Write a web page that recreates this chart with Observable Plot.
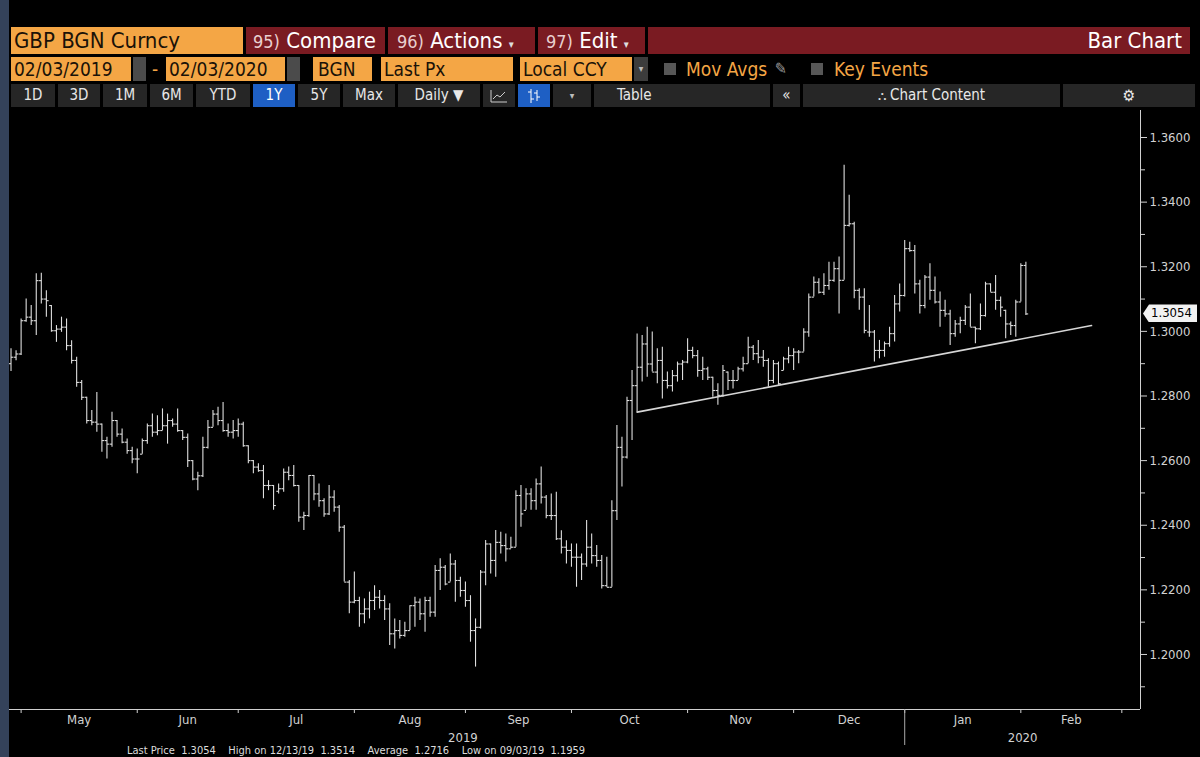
<!DOCTYPE html>
<html>
<head>
<meta charset="utf-8">
<script src="https://cdn.jsdelivr.net/npm/d3@7"></script>
<script src="https://cdn.jsdelivr.net/npm/@observablehq/plot@0.6"></script>
<style>
  html, body { margin: 0; padding: 0; background: #000; }
  body { width: 1200px; height: 757px; overflow: hidden; position: relative;
         font-family: "DejaVu Sans Condensed", "DejaVu Sans", sans-serif; }
  .a { position: absolute; box-sizing: border-box; white-space: pre; }
  .o { background: #F4A645; color: #1a1208; }
  .r { background: #7A1B22; color: #fff; }
  .r1 { top: 27px; height: 27px; line-height: 27px; font-size: 22px; }
  .r2 { top: 57px; height: 24px; line-height: 24px; font-size: 19px; }
  .r3 { top: 84px; height: 23px; line-height: 23px; font-size: 15px; background: #262626; color: #e8e8e8; text-align: center; }
  .n { font-size: 18px; color: #e9cfcf; }
  .ic { background: #4b4b4b; }
  .blue { background: #1e5fc4; color: #fff; }
  .ot { color: #F4A645; }
  .cb { background: #575757; width: 12px; height: 12px; top: 63px; }
  #chart { position: absolute; left: 0; top: 110px; }
  #last { position: absolute; left: 1143px; width: 54px; height: 18px; line-height: 18px;
          background: #f2f2f2; color: #000; font-size: 13px; padding-left: 8px; box-sizing: border-box;
          clip-path: polygon(6px 0, 100% 0, 100% 100%, 6px 100%, 0 50%); }
</style>
</head>
<body>

<!-- row 1 -->
<div class="a o r1" style="left:11px;width:232px;padding-left:3px;">GBP BGN Curncy</div>
<div class="a r r1" style="left:246px;width:139px;padding-left:7px;"><span class="n">95)</span> Compare</div>
<div class="a r r1" style="left:388px;width:147px;padding-left:9px;"><span class="n">96)</span> Actions <span style="font-size:11px;color:#ddd">▾</span></div>
<div class="a r r1" style="left:538px;width:107px;padding-left:8px;"><span class="n">97)</span> Edit <span style="font-size:11px;color:#ddd">▾</span></div>
<div class="a r r1" style="left:648px;width:542px;text-align:right;padding-right:8px;">Bar Chart</div>

<!-- row 2 -->
<div class="a o r2" style="left:11px;width:120px;padding-left:3px;">02/03/2019</div>
<div class="a ic r2" style="left:133px;width:13px;"></div>
<div class="a r2 ot" style="left:152px;">-</div>
<div class="a o r2" style="left:166px;width:119px;padding-left:3px;">02/03/2020</div>
<div class="a ic r2" style="left:287px;width:13px;"></div>
<div class="a o r2" style="left:313px;width:59px;padding-left:5px;">BGN</div>
<div class="a o r2" style="left:381px;width:132px;padding-left:3px;">Last Px</div>
<div class="a o r2" style="left:520px;width:112px;padding-left:3px;">Local CCY</div>
<div class="a r2" style="left:634px;width:14px;background:#3c3c3c;color:#bbb;font-size:10px;text-align:center;">▾</div>
<div class="a cb" style="left:664px;"></div>
<div class="a r2 ot" style="left:686px;">Mov Avgs</div>
<div class="a r2" style="left:775px;color:#999;font-size:16px;">✎</div>
<div class="a cb" style="left:811px;"></div>
<div class="a r2 ot" style="left:834px;">Key Events</div>

<!-- row 3 -->
<div class="a r3" style="left:11px;width:44px;">1D</div>
<div class="a r3" style="left:58px;width:42px;">3D</div>
<div class="a r3" style="left:103px;width:44px;">1M</div>
<div class="a r3" style="left:150px;width:43px;">6M</div>
<div class="a r3" style="left:196px;width:54px;">YTD</div>
<div class="a r3 blue" style="left:253px;width:42px;">1Y</div>
<div class="a r3" style="left:298px;width:42px;">5Y</div>
<div class="a r3" style="left:343px;width:52px;">Max</div>
<div class="a r3" style="left:398px;width:82px;">Daily ▼</div>
<div class="a r3" style="left:483px;width:32px;"><svg width="18" height="14" style="vertical-align:middle"><polyline points="1,1 1,13 17,13" fill="none" stroke="#ccc"/><polyline points="3,10 7,6 10,8 15,3" fill="none" stroke="#ccc"/></svg></div>
<div class="a r3 blue" style="left:518px;width:32px;"><svg width="14" height="16" style="vertical-align:middle"><path d="M4 1V15M1 4H4M4 11H7M10 2V13M7 5H10M10 9H13" stroke="#fff" fill="none"/></svg></div>
<div class="a r3" style="left:553px;width:38px;font-size:10px;color:#bbb;">▾</div>
<div class="a r3" style="left:594px;width:176px;text-align:left;padding-left:23px;">Table</div>
<div class="a r3" style="left:773px;width:27px;">«</div>
<div class="a r3" style="left:803px;width:257px;"><span style="font-size:12px;color:#ddd">⛬</span> Chart Content</div>
<div class="a r3" style="left:1063px;width:132px;font-size:16px;">⚙</div>

<div id="chart"></div>
<div id="last"></div>
<div class="a" style="left:0;top:0;width:9px;height:757px;background:#34425a;z-index:5;"></div>
<div class="a" style="left:127px;top:745px;height:12px;line-height:12px;color:#dcdcdc;font-size:11px;">Last Price  1.3054    High on 12/13/19  1.3514    Average  1.2716    Low on 09/03/19  1.1959</div>

<script>
// ---- Data: GBP BGN Curncy daily OHLC (trading days from 26 Apr 2019 to 3 Feb 2020) ----
const open = [
1.2900,1.2920,1.2930,1.3033,1.3044,1.3033,1.3157,1.3100,1.3080,1.3002,
1.3007,1.3013,1.2956,1.2910,1.2842,1.2796,1.2724,1.2719,1.2713,1.2662,
1.2651,1.2724,1.2682,1.2657,1.2631,1.2605,1.2620,1.2662,1.2708,1.2688,
1.2693,1.2708,1.2724,1.2713,1.2693,1.2672,1.2600,1.2543,1.2553,1.2641,
1.2703,1.2744,1.2724,1.2693,1.2688,1.2693,1.2713,1.2646,1.2600,1.2580,
1.2569,1.2523,1.2523,1.2505,1.2513,1.2564,1.2554,1.2523,1.2425,1.2430,
1.2554,1.2497,1.2476,1.2435,1.2487,1.2456,1.2394,1.2224,1.2162,1.2167,
1.2126,1.2141,1.2167,1.2177,1.2167,1.2141,1.2064,1.2074,1.2059,1.2074,
1.2151,1.2162,1.2126,1.2167,1.2131,1.2260,1.2270,1.2224,1.2280,1.2229,
1.2198,1.2167,1.2074,1.2084,1.2255,1.2342,1.2291,1.2347,1.2337,1.2327,
1.2332,1.2492,1.2446,1.2497,1.2476,1.2528,1.2487,1.2430,1.2430,1.2358,
1.2332,1.2322,1.2301,1.2301,1.2280,1.2332,1.2306,1.2291,1.2213,1.2208,
1.2445,1.2641,1.2611,1.2786,1.2832,1.2889,1.2961,1.2899,1.2874,1.2910,
1.2848,1.2832,1.2863,1.2899,1.2905,1.2941,1.2925,1.2879,1.2884,1.2858,
1.2817,1.2802,1.2874,1.2848,1.2848,1.2884,1.2900,1.2951,1.2931,1.2920,
1.2910,1.2848,1.2900,1.2879,1.2915,1.2925,1.2936,1.2936,1.2998,1.3106,
1.3152,1.3121,1.3142,1.3158,1.3194,1.3158,1.3328,1.3333,1.3127,1.3106,
1.2998,1.2998,1.2941,1.2941,1.2962,1.2993,1.3085,1.3111,1.3256,1.3250,
1.3147,1.3080,1.3168,1.3127,1.3091,1.3065,1.3054,1.2993,1.3023,1.3034,
1.3075,1.3013,1.3008,1.3049,1.3147,1.3121,1.3096,1.3065,1.3023,1.3018,
1.3091,1.3204];
const high = [
1.2946,1.2940,1.3038,1.3100,1.3080,1.3178,1.3180,1.3126,1.3080,1.3018,
1.3044,1.3038,1.2971,1.2920,1.2848,1.2796,1.2755,1.2811,1.2713,1.2672,
1.2750,1.2724,1.2698,1.2667,1.2641,1.2636,1.2667,1.2713,1.2744,1.2739,
1.2760,1.2744,1.2729,1.2760,1.2693,1.2682,1.2600,1.2564,1.2672,1.2724,
1.2755,1.2765,1.2780,1.2713,1.2724,1.2729,1.2719,1.2646,1.2600,1.2590,
1.2585,1.2538,1.2523,1.2528,1.2574,1.2580,1.2585,1.2523,1.2440,1.2554,
1.2554,1.2528,1.2482,1.2523,1.2507,1.2461,1.2399,1.2229,1.2255,1.2177,
1.2172,1.2193,1.2213,1.2198,1.2182,1.2157,1.2110,1.2105,1.2100,1.2151,
1.2177,1.2172,1.2177,1.2177,1.2275,1.2296,1.2275,1.2311,1.2291,1.2239,
1.2224,1.2182,1.2110,1.2260,1.2353,1.2342,1.2384,1.2378,1.2373,1.2363,
1.2507,1.2523,1.2513,1.2513,1.2543,1.2580,1.2492,1.2497,1.2502,1.2383,
1.2352,1.2342,1.2342,1.2311,1.2415,1.2373,1.2337,1.2306,1.2301,1.2476,
1.2709,1.2672,1.2796,1.2879,1.2992,1.2987,1.3013,1.2998,1.2946,1.2951,
1.2874,1.2879,1.2905,1.2910,1.2977,1.2951,1.2941,1.2920,1.2889,1.2858,
1.2838,1.2894,1.2874,1.2879,1.2889,1.2920,1.2982,1.2956,1.2972,1.2941,
1.2915,1.2910,1.2905,1.2920,1.2951,1.2946,1.2941,1.3008,1.3116,1.3168,
1.3163,1.3178,1.3214,1.3214,1.3230,1.3514,1.3421,1.3338,1.3132,1.3132,
1.3080,1.3003,1.2972,1.2967,1.3013,1.3111,1.3147,1.3281,1.3276,1.3266,
1.3158,1.3173,1.3209,1.3168,1.3122,1.3096,1.3065,1.3034,1.3044,1.3080,
1.3116,1.3013,1.3085,1.3152,1.3147,1.3173,1.3106,1.3065,1.3029,1.3096,
1.3209,1.3214];
const low = [
1.2876,1.2909,1.2925,1.3028,1.3018,1.2987,1.3085,1.3044,1.2997,1.2966,
1.2997,1.2940,1.2899,1.2827,1.2786,1.2713,1.2708,1.2688,1.2626,1.2605,
1.2641,1.2672,1.2652,1.2620,1.2590,1.2559,1.2620,1.2651,1.2672,1.2677,
1.2693,1.2651,1.2703,1.2688,1.2662,1.2579,1.2538,1.2507,1.2548,1.2636,
1.2703,1.2708,1.2688,1.2672,1.2667,1.2672,1.2641,1.2590,1.2559,1.2564,
1.2482,1.2507,1.2446,1.2497,1.2502,1.2538,1.2518,1.2409,1.2384,1.2425,
1.2476,1.2456,1.2425,1.2430,1.2440,1.2378,1.2224,1.2126,1.2157,1.2084,
1.2095,1.2110,1.2136,1.2141,1.2105,1.2028,1.2017,1.2048,1.2053,1.2074,
1.2084,1.2105,1.2069,1.2115,1.2115,1.2198,1.2213,1.2224,1.2162,1.2177,
1.2146,1.2038,1.1961,1.2079,1.2213,1.2249,1.2239,1.2311,1.2286,1.2327,
1.2332,1.2394,1.2446,1.2446,1.2446,1.2466,1.2420,1.2415,1.2353,1.2311,
1.2280,1.2270,1.2208,1.2229,1.2270,1.2280,1.2270,1.2203,1.2208,1.2208,
1.2415,1.2518,1.2605,1.2662,1.2750,1.2843,1.2858,1.2874,1.2838,1.2791,
1.2822,1.2812,1.2843,1.2848,1.2900,1.2915,1.2858,1.2848,1.2848,1.2796,
1.2771,1.2796,1.2817,1.2822,1.2848,1.2874,1.2900,1.2910,1.2900,1.2889,
1.2827,1.2838,1.2833,1.2879,1.2900,1.2879,1.2900,1.2936,1.2982,1.3106,
1.3116,1.3111,1.3127,1.3152,1.3054,1.3158,1.3323,1.3101,1.3065,1.2993,
1.2982,1.2905,1.2915,1.2920,1.2951,1.2967,1.3060,1.3106,1.3245,1.3116,
1.3054,1.3070,1.3096,1.3085,1.3013,1.3044,1.2956,1.2982,1.2993,1.3018,
1.3013,1.2962,1.3003,1.3044,1.3121,1.3065,1.3044,1.2977,1.2987,1.2982,
1.3091,1.3049];
const close = [
1.2920,1.2930,1.3033,1.3044,1.3033,1.3157,1.3100,1.3095,1.3002,1.3007,
1.3013,1.2956,1.2910,1.2842,1.2796,1.2724,1.2719,1.2713,1.2662,1.2651,
1.2724,1.2682,1.2657,1.2631,1.2605,1.2605,1.2662,1.2708,1.2688,1.2693,
1.2708,1.2724,1.2713,1.2693,1.2672,1.2600,1.2543,1.2553,1.2641,1.2703,
1.2744,1.2724,1.2693,1.2688,1.2693,1.2713,1.2646,1.2600,1.2580,1.2569,
1.2523,1.2523,1.2461,1.2513,1.2564,1.2554,1.2523,1.2425,1.2430,1.2554,
1.2497,1.2476,1.2435,1.2487,1.2456,1.2394,1.2224,1.2162,1.2167,1.2126,
1.2141,1.2167,1.2177,1.2167,1.2141,1.2064,1.2074,1.2059,1.2074,1.2151,
1.2162,1.2126,1.2167,1.2131,1.2260,1.2270,1.2218,1.2280,1.2229,1.2198,
1.2167,1.2074,1.2084,1.2255,1.2342,1.2291,1.2347,1.2337,1.2327,1.2332,
1.2492,1.2435,1.2497,1.2476,1.2528,1.2487,1.2430,1.2430,1.2358,1.2332,
1.2322,1.2301,1.2301,1.2280,1.2332,1.2306,1.2291,1.2213,1.2208,1.2445,
1.2641,1.2611,1.2786,1.2832,1.2889,1.2961,1.2899,1.2874,1.2910,1.2848,
1.2832,1.2863,1.2899,1.2905,1.2941,1.2925,1.2879,1.2884,1.2858,1.2817,
1.2802,1.2879,1.2848,1.2848,1.2884,1.2900,1.2951,1.2931,1.2920,1.2910,
1.2848,1.2900,1.2838,1.2915,1.2925,1.2936,1.2936,1.2998,1.3106,1.3152,
1.3121,1.3142,1.3158,1.3194,1.3158,1.3328,1.3333,1.3127,1.3106,1.3003,
1.2998,1.2941,1.2941,1.2962,1.2993,1.3085,1.3111,1.3256,1.3250,1.3147,
1.3080,1.3168,1.3127,1.3091,1.3065,1.3054,1.2993,1.3023,1.3034,1.3075,
1.3013,1.3008,1.3049,1.3147,1.3121,1.3096,1.3075,1.3023,1.3018,1.3091,
1.3204,1.3054];

// support trend line drawn on the chart
const trendDates = ["2019-10-17", "2020-02-20"];
const trendValues = [1.2750, 1.3018];

// axis tick labels
const yMajor = [1.20, 1.22, 1.24, 1.26, 1.28, 1.30, 1.32, 1.34, 1.36];
const yMinor = [1.19, 1.21, 1.23, 1.25, 1.27, 1.29, 1.31, 1.33, 1.35];

// ---- trading-day calendar (weekdays) ----
const cal = [];
for (let t = Date.UTC(2019, 3, 26); t <= Date.UTC(2020, 2, 6); t += 864e5) {
  const d = new Date(t), w = d.getUTCDay();
  if (w !== 0 && w !== 6) cal.push(d);
}
const keyOf = d => d.toISOString().slice(0, 10);
const idx = new Map(cal.map((d, i) => [keyOf(d), i]));

const bars = close.map((c, i) => ({i, date: cal[i], open: open[i], high: high[i], low: low[i], close: c}));
const trend = trendDates.map((s, k) => ({i: idx.get(s), v: trendValues[k]}));

const xDomain = [-0.3, 223.7];
const yDomain = [1.18297, 1.36836];

// month boundaries: tick at last trading day of each month
const monthTicks = [];
for (let i = 1; i < cal.length; i++) if (cal[i].getUTCMonth() !== cal[i - 1].getUTCMonth()) monthTicks.push(i - 1);
const fmtMonth = d3.utcFormat("%b");
const monthLabels = [];
for (let k = 0; k + 1 < monthTicks.length; k++) {
  monthLabels.push({x: (monthTicks[k] + monthTicks[k + 1]) / 2, name: fmtMonth(cal[monthTicks[k] + 1])});
}
const yearTicks = [];
for (let i = 1; i < cal.length; i++) if (cal[i].getUTCFullYear() !== cal[i - 1].getUTCFullYear()) yearTicks.push(i - 1);
const yearLabels = [
  {x: (monthTicks[0] + yearTicks[0]) / 2, name: String(cal[yearTicks[0]].getUTCFullYear())},
  {x: (yearTicks[0] + xDomain[1]) / 2, name: String(cal[yearTicks[0] + 1].getUTCFullYear())}
];

const ink = "#dedede";
const chart = Plot.plot({
  width: 1200, height: 647,
  marginLeft: 9, marginRight: 60, marginTop: 0, marginBottom: 48,
  style: {background: "#000", color: "#d2d2d2", fontFamily: "'DejaVu Sans Condensed','DejaVu Sans',sans-serif", fontSize: "13px", overflow: "visible"},
  x: {domain: xDomain},
  y: {domain: yDomain},
  marks: [
    Plot.ruleX([xDomain[1]], {stroke: "#d0d0d0"}),
    Plot.ruleY([yDomain[0]], {stroke: "#d0d0d0"}),
    Plot.axisY({anchor: "right", ticks: yMajor, tickFormat: d => d.toFixed(4), tickSize: 6, tickPadding: 3, label: null, fontSize: 13}),
    Plot.axisY({anchor: "right", ticks: yMinor, tickFormat: () => "", tickSize: 4, label: null}),
    Plot.axisX({ticks: monthTicks, tickSize: 4, tickFormat: () => "", label: null}),
    Plot.axisX({ticks: yearTicks, tickSize: 36, tickFormat: () => "", label: null, stroke: "#aaa"}),
    Plot.text(monthLabels, {x: "x", text: "name", frameAnchor: "bottom", lineAnchor: "middle", dy: 10, fill: "#d2d2d2", fontSize: 13}),
    Plot.text(yearLabels, {x: "x", text: "name", frameAnchor: "bottom", lineAnchor: "middle", dy: 28, fill: "#d2d2d2", fontSize: 13}),
    Plot.ruleX(bars, {x: "i", y1: "low", y2: "high", stroke: ink, strokeWidth: 1.1}),
    Plot.link(bars, {x1: d => d.i - 0.45, x2: "i", y1: "open", y2: "open", stroke: ink, strokeWidth: 1.1}),
    Plot.link(bars, {x1: "i", x2: d => d.i + 0.45, y1: "close", y2: "close", stroke: ink, strokeWidth: 1.1}),
    Plot.line(trend, {x: "i", y: "v", stroke: "#d6d6d6", strokeWidth: 1.6})
  ]
});
document.getElementById("chart").append(chart);

const last = close[close.length - 1];
const lab = document.getElementById("last");
lab.textContent = last.toFixed(4);
lab.style.top = (110 + chart.scale("y").apply(last) - 9) + "px";
</script>
</body>
</html>
